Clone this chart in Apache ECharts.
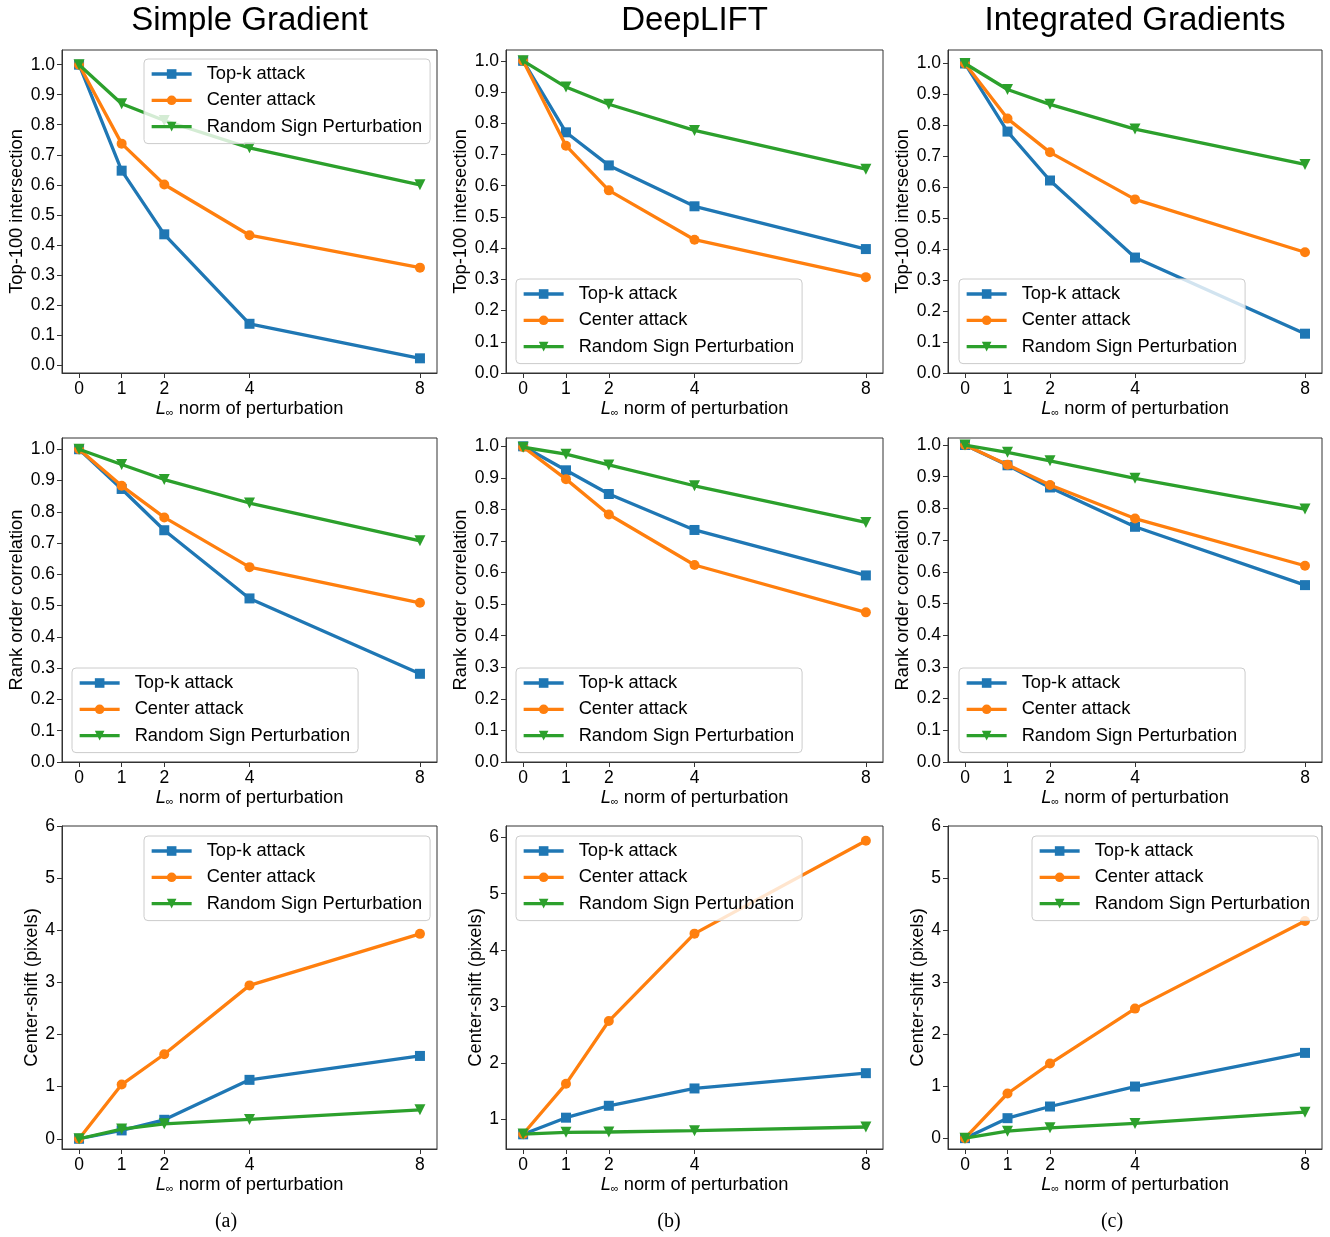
<!DOCTYPE html>
<html><head><meta charset="utf-8">
<script src="https://cdn.jsdelivr.net/npm/echarts@6/dist/echarts.min.js"></script>
<style>html,body{margin:0;padding:0;background:#fff}#c{width:1330px;height:1237px}</style>
</head><body><div id="c"></div>
<script>
// ---------- data ----------
const xValues = [0, 1, 2, 4, 8];
const xTickLabels = ['0', '1', '2', '4', '8'];
const seriesNames = ['Top-k attack', 'Center attack', 'Random Sign Perturbation'];
const methodTitles = ['Simple Gradient', 'DeepLIFT', 'Integrated Gradients'];
const yAxisTitles = ['Top-100 intersection', 'Rank order correlation', 'Center-shift (pixels)'];
const xAxisTitleRich = '{i|L}{s|∞} norm of perturbation';
const captions = ['(a)', '(b)', '(c)'];

const fracTicks = [0, 0.1, 0.2, 0.3, 0.4, 0.5, 0.6, 0.7, 0.8, 0.9, 1.0];
const fracTickLabels = ['0.0', '0.1', '0.2', '0.3', '0.4', '0.5', '0.6', '0.7', '0.8', '0.9', '1.0'];
const pixTicks = [0, 1, 2, 3, 4, 5, 6];
const pixTickLabels = ['0', '1', '2', '3', '4', '5', '6'];
const pixTicksDL = [1, 2, 3, 4, 5, 6];
const pixTickLabelsDL = ['1', '2', '3', '4', '5', '6'];

// Top-100 intersection
const sgTop_topk   = [1.0, 0.647, 0.435, 0.137, 0.022];
const sgTop_center = [1.0, 0.737, 0.601, 0.432, 0.324];
const sgTop_random = [1.0, 0.870, 0.814, 0.723, 0.600];
const dlTop_topk   = [1.0, 0.771, 0.665, 0.534, 0.397];
const dlTop_center = [1.0, 0.728, 0.585, 0.427, 0.307];
const dlTop_random = [1.0, 0.916, 0.861, 0.777, 0.653];
const igTop_topk   = [1.0, 0.780, 0.622, 0.373, 0.127];
const igTop_center = [1.0, 0.822, 0.713, 0.561, 0.390];
const igTop_random = [1.0, 0.916, 0.868, 0.788, 0.674];

// Rank order correlation
const sgRank_topk   = [1.0, 0.873, 0.741, 0.523, 0.282];
const sgRank_center = [1.0, 0.883, 0.782, 0.623, 0.509];
const sgRank_random = [1.0, 0.951, 0.903, 0.828, 0.707];
const dlRank_topk   = [1.0, 0.924, 0.849, 0.735, 0.591];
const dlRank_center = [0.998, 0.896, 0.784, 0.624, 0.474];
const dlRank_random = [0.997, 0.975, 0.941, 0.875, 0.759];
const igRank_topk   = [1.0, 0.936, 0.866, 0.742, 0.558];
const igRank_center = [1.0, 0.938, 0.874, 0.768, 0.619];
const igRank_random = [1.0, 0.977, 0.950, 0.895, 0.798];

// Center-shift (pixels)
const sgShift_topk   = [0.0, 0.16, 0.364, 1.13, 1.589];
const sgShift_center = [0.0, 1.04, 1.621, 2.942, 3.931];
const sgShift_random = [0.0, 0.185, 0.287, 0.37, 0.555];
const dlShift_topk   = [0.735, 1.03, 1.241, 1.548, 1.819];
const dlShift_center = [0.74, 1.63, 2.743, 4.292, 5.94];
const dlShift_random = [0.74, 0.77, 0.776, 0.80, 0.865];
const igShift_topk   = [0.0, 0.384, 0.608, 0.992, 1.639];
const igShift_center = [0.0, 0.858, 1.434, 2.49, 4.174];
const igShift_random = [0.0, 0.134, 0.198, 0.282, 0.499];

// ---------- styles / layout ----------
const F = '"Liberation Sans", Arial, Helvetica, sans-serif';
const colors = ['#1f77b4', '#ff7f0e', '#2ca02c'];
const symbols = ['rect', 'circle', 'path://M0,0L20,0L10,20Z'];
const symbolSizes = [10, 10, 11];
const lineW = 3.3;
const colLeft = [62, 506, 948];
const colWidth = [375, 377, 374];
const rowTop = [50, 438, 826];
const rowHeight = [323, 324, 323];

const panels = [
  {r:0,c:0,d:[sgTop_topk,sgTop_center,sgTop_random], t:fracTicks, tl:fracTickLabels, min:null, max:null, lg:[144,59], ng:36},
  {r:0,c:1,d:[dlTop_topk,dlTop_center,dlTop_random], t:fracTicks, tl:fracTickLabels, min:0, max:null, lg:[516,279], ng:36},
  {r:0,c:2,d:[igTop_topk,igTop_center,igTop_random], t:fracTicks, tl:fracTickLabels, min:0, max:null, lg:[959,279], ng:36},
  {r:1,c:0,d:[sgRank_topk,sgRank_center,sgRank_random], t:fracTicks, tl:fracTickLabels, min:0, max:null, lg:[72,668], ng:36},
  {r:1,c:1,d:[dlRank_topk,dlRank_center,dlRank_random], t:fracTicks, tl:fracTickLabels, min:0, max:null, lg:[516,668], ng:36},
  {r:1,c:2,d:[igRank_topk,igRank_center,igRank_random], t:fracTicks, tl:fracTickLabels, min:0, max:null, lg:[959,668], ng:36},
  {r:2,c:0,d:[sgShift_topk,sgShift_center,sgShift_random], t:pixTicks, tl:pixTickLabels, min:null, max:6, lg:[144,836], ng:18},
  {r:2,c:1,d:[dlShift_topk,dlShift_center,dlShift_random], t:pixTicksDL, tl:pixTickLabelsDL, min:null, max:null, lg:[516,836], ng:18},
  {r:2,c:2,d:[igShift_topk,igShift_center,igShift_random], t:pixTicks, tl:pixTickLabels, min:null, max:6, lg:[1032,836], ng:18}
];

function autoLimits(arrs) {
  const all = [].concat(...arrs);
  const lo = Math.min(...all), hi = Math.max(...all);
  const m = 0.05 * (hi - lo);
  return [lo - m, hi + m];
}

const grid = [], xAxis = [], yAxis = [], series = [], legend = [], graphic = [];
const axisColor = '#333';

panels.forEach((p, i) => {
  grid.push({left: colLeft[p.c], top: rowTop[p.r], width: colWidth[p.c], height: rowHeight[p.r],
    show: true, borderColor: axisColor, borderWidth: 1, backgroundColor: 'transparent',
    containLabel: false, outerBoundsMode: 'none'});
  xAxis.push({type: 'value', gridIndex: i, min: -0.4, max: 8.4,
    axisLine: {show: true, onZero: false, lineStyle: {color: axisColor, width: 1}},
    axisTick: {show: true, inside: false, length: 5, customValues: xValues, lineStyle: {color: axisColor}},
    axisLabel: {customValues: xValues, margin: 7, fontSize: 17.5, fontFamily: F, color: '#000',
      formatter: v => xTickLabels[xValues.indexOf(v)]},
    splitLine: {show: false},
    name: xAxisTitleRich, nameLocation: 'middle', nameGap: 27,
    nameTextStyle: {fontSize: 18.3, fontFamily: F, color: '#000', lineHeight: 18,
      rich: {i: {fontStyle: 'italic', fontSize: 18.3, fontFamily: F, color: '#000'},
             s: {fontSize: 11, fontFamily: F, color: '#000', verticalAlign: 'bottom'}}}
  });
  const lim = autoLimits(p.d);
  const ymin = p.min !== null ? p.min : lim[0];
  const ymax = p.max !== null ? p.max : lim[1];
  yAxis.push({type: 'value', gridIndex: i, min: ymin, max: ymax,
    axisLine: {show: true, onZero: false, lineStyle: {color: axisColor, width: 1}},
    axisTick: {show: true, inside: false, length: 5, customValues: p.t, lineStyle: {color: axisColor}},
    axisLabel: {customValues: p.t, margin: 7, fontSize: 17.5, fontFamily: F, color: '#000',
      formatter: v => { const k = p.t.findIndex(t => Math.abs(t - v) < 1e-9); return k >= 0 ? p.tl[k] : ''; }},
    splitLine: {show: false},
    name: yAxisTitles[p.r], nameLocation: 'middle', nameGap: p.ng, nameRotate: 90,
    nameTextStyle: {fontSize: 18.3, fontFamily: F, color: '#000'}
  });
  p.d.forEach((ys, k) => {
    series.push({type: 'line', name: seriesNames[k], xAxisIndex: i, yAxisIndex: i,
      data: xValues.map((x, j) => [x, ys[j]]),
      symbol: symbols[k], symbolSize: symbolSizes[k], showSymbol: true,
      itemStyle: {color: colors[k], borderWidth: 0},
      lineStyle: {color: colors[k], width: lineW},
      z: 2 + k, silent: true, clip: false, animation: false,
      emphasis: {disabled: true}
    });
  });
  legend.push({left: p.lg[0], top: p.lg[1], orient: 'vertical', data: seriesNames,
    itemWidth: 40, itemHeight: 12, itemGap: 8.3, padding: [6, 8, 8, 6],
    backgroundColor: 'rgba(255,255,255,0.8)', borderColor: '#cccccc', borderWidth: 1, borderRadius: 4,
    lineStyle: {width: lineW},
    textStyle: {fontSize: 18.3, fontFamily: F, color: '#000', padding: [0, 0, 0, 10]},
    selectedMode: false, z: 10});
});

for (let c = 0; c < 3; c++) {
  graphic.push({type: 'text', x: colLeft[c] + colWidth[c] / 2, y: 21, z: 20,
    style: {text: methodTitles[c], fontSize: 33, fontFamily: F, fill: '#000',
      align: 'center', verticalAlign: 'middle', textAlign: 'center', textVerticalAlign: 'middle'}});
}
const captionX = [226, 669, 1112];
for (let c = 0; c < 3; c++) {
  graphic.push({type: 'text', x: captionX[c], y: 1222, z: 20,
    style: {text: captions[c], fontSize: 20, fontFamily: '"Liberation Serif", "Times New Roman", serif', fill: '#000',
      align: 'center', verticalAlign: 'middle', textAlign: 'center', textVerticalAlign: 'middle'}});
}

const chart = echarts.init(document.getElementById('c'), null, {renderer: 'canvas'});
chart.setOption({animation: false, backgroundColor: '#fff', grid, xAxis, yAxis, series, legend, graphic, tooltip: {show: false}});
</script></body></html>
